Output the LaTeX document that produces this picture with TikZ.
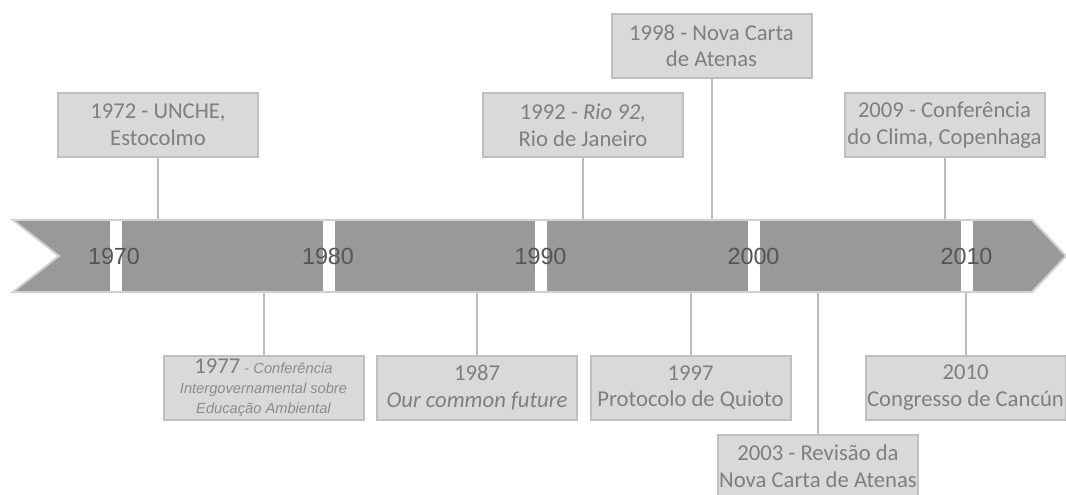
\documentclass[tikz,border=0pt]{standalone}
\usepackage{fontspec}
\setmainfont{Carlito}
\newfontfamily\yearfont{Liberation Sans}
\newfontfamily\smallfont{Liberation Sans}
\definecolor{bannerfill}{HTML}{999999}
\definecolor{bannerline}{HTML}{D0D0D0}
\definecolor{boxfill}{HTML}{D9D9D9}
\definecolor{boxline}{HTML}{BFBFBF}
\definecolor{boxtext}{HTML}{7F7F7F}
\definecolor{smalltext}{HTML}{8C8C8C}
\definecolor{yeartext}{HTML}{555555}
\definecolor{linkcol}{HTML}{BCBCBC}
\begin{document}
\begin{tikzpicture}[x=0.75pt,y=-0.75pt,
  evbox/.style={draw=boxline, fill=boxfill, line width=1.5pt, minimum width=150pt,
    minimum height=48pt, inner sep=0pt, align=center, text=boxtext,
    font=\fontsize{17}{20}\selectfont},
  link/.style={draw=linkcol, line width=1.5pt},
  yearlbl/.style={text=yeartext, font=\yearfont\fontsize{17.5}{20}\selectfont, inner sep=0pt},
  tickbar/.style={fill=white, draw=none, minimum width=9pt, minimum height=52.5pt, inner sep=0pt}
]
\useasboundingbox (0,0) rectangle (1066,495);
\coordinate (btop) at (0,220);
\coordinate (bbot) at (0,292);

% event boxes above
\node[evbox] (e1972) at (158,125) {1972 - UNCHE,\\Estocolmo};
\node[evbox] (e1992) at (583,125) {1992 - \textit{Rio 92,}\\Rio de Janeiro};
\node[evbox] (e1998) at (711.5,46) {1998 - Nova Carta\\de Atenas};
\node[evbox] (e2009) at (944.5,125) {2009 - Conferência\\do Clima, Copenhaga};
% event boxes below
\node[evbox, font=\smallfont\itshape\fontsize{11}{15}\selectfont, text=smalltext] (e1977) at (263.5,387.5)
  {{\rmfamily\upshape\color{boxtext}\fontsize{17}{15}\selectfont 1977} {\upshape -} Conferência\\Intergovernamental sobre\\Educação Ambiental};
\node[evbox] (e1987) at (477,387.5) {1987\\\textit{Our common future}};
\node[evbox] (e1997) at (690.5,387.5) {1997\\Protocolo de Quioto};
\node[evbox] (e2003) at (818,466.5) {2003 - Revisão da\\Nova Carta de Atenas};
\node[evbox] (e2010) at (965.5,387.5) {2010\\Congresso de Cancún};

% connectors
\draw[link] (e1972.south) -- (e1972.south |- btop);
\draw[link] (e1992.south) -- (e1992.south |- btop);
\draw[link] (e1998.south) -- (e1998.south |- btop);
\draw[link] (e2009.south) -- (e2009.south |- btop);
\draw[link] (e1977.north) -- (e1977.north |- bbot);
\draw[link] (e1987.north) -- (e1987.north |- bbot);
\draw[link] (e1997.north) -- (e1997.north |- bbot);
\draw[link] (e2003.north) -- (e2003.north |- bbot);
\draw[link] (e2010.north) -- (e2010.north |- bbot);

% banner
\path[fill=bannerfill, draw=bannerline, line width=1.5pt, line join=miter]
  (13,220) -- (1032,220) -- (1066,256) -- (1032,292) -- (13,292) -- (59,256) -- cycle;

% white ticks
\node[tickbar] (k1970) at (116,256) {};
\node[tickbar] (k1980) at (328.5,256) {};
\node[tickbar] (k1990) at (540.5,256) {};
\node[tickbar] (k2000) at (753.5,256) {};
\node[tickbar] (k2010) at (967,256) {};

% year labels (on top of the ticks)
\node[yearlbl] (y1970) at (114,256) {1970};
\node[yearlbl] (y1980) at (328,256) {1980};
\node[yearlbl] (y1990) at (540.5,256) {1990};
\node[yearlbl] (y2000) at (753.5,256) {2000};
\node[yearlbl] (y2010) at (966.5,256) {2010};
\end{tikzpicture}
\end{document}
